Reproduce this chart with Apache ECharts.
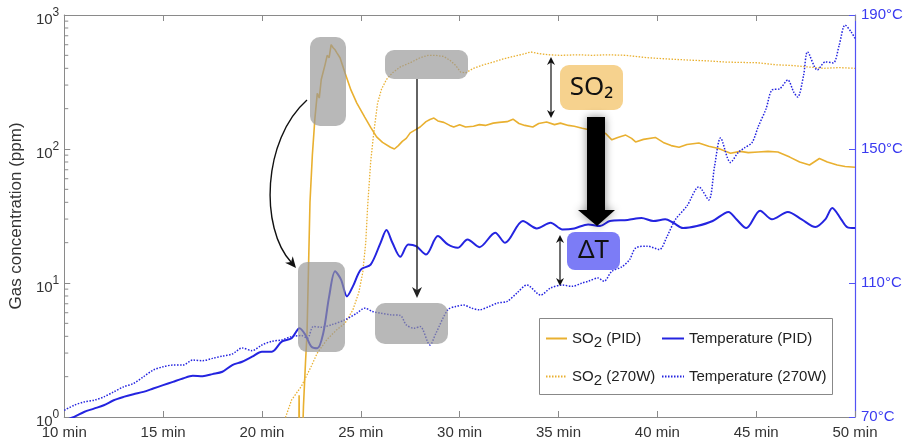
<!DOCTYPE html>
<html><head><meta charset="utf-8">
<script src="https://cdn.jsdelivr.net/npm/echarts@6/dist/echarts.min.js"></script>
<style>html,body{margin:0;padding:0;background:#fff}#c{width:908px;height:441px}</style>
</head><body><div id="c"></div>
<script>
// ---- data (time in min, SO2 in ppm, temperature in °C) ----
const xTicks = [10, 15, 20, 25, 30, 35, 40, 45, 50];
const leftTickLabels = ['10^0', '10^1', '10^2', '10^3'];
const rightTickLabels = ['70°C', '110°C', '150°C', '190°C'];
const seriesNames = ['SO2 (PID)', 'SO2 (270W)', 'Temperature (PID)', 'Temperature (270W)'];

const so2PID = [
 [21.5,0.3],[21.85,0.3],[21.88,1.45],[21.92,0.3],[22.0,0.4],[22.1,1.2],[22.2,2.5],[22.28,4.2],[22.35,12],[22.43,40],
 [22.55,90],[22.68,170],[22.8,260],[22.9,240],[23.0,330],[23.1,320],[23.2,430],[23.3,500],[23.4,480],[23.5,600],
 [23.6,570],[23.7,550],[23.8,520],[23.95,480],[24.2,370],[24.5,276],[24.8,220],[25.2,173],[25.5,145],[25.8,123],
 [26.1,112],[26.5,103],[26.7,100],[26.9,106],[27.1,114],[27.3,120],[27.5,132],[27.8,140],[28.0,146],[28.3,160],
 [28.5,166],[28.7,170],[28.9,162],[29.2,158],[29.5,150],[29.7,146],[30.0,152],[30.3,146],[30.7,148],[31.0,152],
 [31.3,150],[31.7,156],[32.0,158],[32.4,160],[32.7,167],[33.0,155],[33.3,150],[33.7,146],[34.0,155],[34.4,159],
 [34.8,152],[35.1,156],[35.5,150],[35.8,148],[36.2,143],[36.5,140],[37.0,139],[37.4,130],[37.7,117],[38.0,122],
 [38.4,127],[38.7,120],[38.9,113],[39.3,118],[39.9,122],[40.3,112],[40.7,106],[41.1,103],[41.5,108],[42.1,111],
 [42.6,105],[43.1,101],[43.7,93],[44.2,96],[44.6,94],[45.1,95],[45.6,96],[46.1,95],[46.4,91],[46.7,87],
 [47.2,80],[47.7,76],[48.2,85],[48.6,80],[49.1,76],[49.5,74],[50.0,73]
];
const so2W = [
 [20.5,0.5],[21.2,1.0],[21.5,1.34],[22.0,1.7],[22.5,2.4],[22.8,3.0],[23.3,3.8],[23.8,4.5],[24.2,5.0],[24.6,6.3],
 [24.9,8.5],[25.1,12],[25.25,20],[25.35,38],[25.5,80],[25.65,130],[25.85,220],[26.05,280],[26.3,330],[26.6,370],
 [27.0,410],[27.5,440],[28.0,480],[28.4,500],[28.8,500],[29.2,490],[29.5,460],[29.8,420],[30.05,375],[30.3,370],
 [30.7,400],[31.2,425],[31.7,445],[32.2,470],[32.7,490],[33.2,510],[33.6,530],[34.0,515],[34.5,505],[35.1,500],
 [36.0,505],[36.7,500],[37.5,505],[38.4,500],[39.5,480],[40.5,470],[41.7,460],[42.5,455],[43.5,445],[45.1,440],
 [46.0,425],[46.8,420],[47.6,410],[48.4,400],[49.2,405],[50.0,400]
];
const tempPID = [
 [10.0,69.0],[10.5,70.0],[11.0,71.5],[11.5,72.5],[12.0,73.5],[12.5,75.0],[13.0,76.0],[13.5,76.8],[14.0,77.5],[14.5,78.5],
 [15.0,79.5],[15.5,80.5],[16.0,81.5],[16.5,82.3],[17.0,82.2],[17.5,82.8],[18.0,83.5],[18.5,85.5],[19.0,86.5],[19.5,88.0],
 [20.0,89.5],[20.5,89.5],[21.0,92.5],[21.5,93.5],[21.9,96.5],[22.2,94.5],[22.5,91.0],[22.8,90.5],[23.1,95],[23.4,106],
 [23.7,113.5],[24.0,111],[24.3,106],[24.6,109],[25.0,114],[25.5,115.5],[26.0,122],[26.3,125.8],[26.6,122],[27.0,117.8],
 [27.4,121.5],[27.8,121],[28.3,118.5],[28.9,124],[29.4,121.5],[29.9,120.5],[30.4,123],[31.0,120.7],[31.8,125],[32.3,122],
 [33.2,128.5],[33.9,126.3],[34.6,128],[35.2,126],[35.8,126.3],[36.5,127.5],[37.1,127],[37.6,128.5],[38.5,128.8],[39.2,129.4],
 [39.8,128.5],[40.4,129],[40.8,128],[41.3,126.4],[42.0,127],[42.8,128.5],[43.6,131.2],[44.0,129],[44.5,126.4],[45.2,131.6],
 [45.8,129],[46.6,131.2],[47.3,129],[48.0,126.7],[48.5,129],[48.85,132.4],[49.3,129],[49.6,126.7],[50.0,126.4]
];
const tempW = [
 [10.0,72],[10.5,73.5],[11.0,74.5],[11.5,75],[12.0,76],[12.5,77.5],[13.0,79],[13.5,80],[14.0,82],[14.5,84],
 [15.0,85],[15.5,85.5],[16.0,85.5],[16.5,87],[17.0,86.8],[17.5,87.5],[18.0,88.2],[18.5,88.8],[19.0,90.6],[19.5,89.8],
 [20.0,91.5],[20.5,92.6],[21.0,93],[21.5,94],[22.0,94.3],[22.3,93.5],[22.6,97],[23.0,96.8],[23.5,97.5],[24.2,99],
 [24.8,101],[25.2,102.5],[25.6,101.5],[26.0,101],[26.5,100.5],[27.0,100.3],[27.3,97.5],[27.7,96.5],[28.0,97],[28.5,91.5],
 [28.8,95],[29.4,102],[29.8,103],[30.2,103.4],[30.6,102.5],[31.0,102],[31.5,103],[31.9,104],[32.4,104.5],[32.9,107],
 [33.4,109.4],[34.1,106.4],[34.6,108.5],[35.2,109.4],[35.7,109],[36.2,110],[36.5,110.5],[37.0,111.5],[37.3,110.5],[37.7,113.5],
 [38.2,114.8],[38.6,117],[38.9,120.4],[39.5,121],[40.1,120],[40.5,124],[40.9,128.8],[41.5,133],[42.1,138.7],[42.6,134.8],
 [42.9,145],[43.2,153.3],[43.7,146],[44.1,149],[44.4,150.3],[44.8,152],[45.1,156.6],[45.5,162],[45.8,167.6],[46.2,168],
 [46.6,170.6],[46.9,167],[47.1,165.5],[47.4,172],[47.6,179],[48.1,173.6],[48.5,176],[48.9,175.7],[49.2,181],[49.5,187],
 [49.8,185],[50.0,183]
];
const minorTickValues = [2,3,4,5,6,7,8,9,20,30,40,50,60,70,80,90,200,300,400,500,600,700,800,900];

// ---- styles ----
const FONT = '"Liberation Sans", Arial, sans-serif';
const ORANGE = '#E9B030';
const BLUE = '#2424E0';
const AXBLUE = '#5252F5';
const GREY = '#8a8a8a';
const LBL = '#333';

function arrowHead(tx, ty, dx, dy, len, hw, color) {
  const n = Math.hypot(dx, dy); dx /= n; dy /= n;
  const bx = tx - dx * len, by = ty - dy * len;
  const px = -dy * hw, py = dx * hw;
  const nx = tx - dx * len * 0.7, ny = ty - dy * len * 0.7;
  return { type: 'polygon', z: 110, shape: { points: [[tx, ty], [bx + px, by + py], [nx, ny], [bx - px, by - py]] }, style: { fill: color } };
}
function dblArrow(x, y1, y2) {
  return [
    { type: 'line', z: 110, shape: { x1: x, y1: y1 + 4, x2: x, y2: y2 - 4 }, style: { stroke: '#111', lineWidth: 1.2 } },
    arrowHead(x, y1, 0, -1, 8, 4, '#111'),
    arrowHead(x, y2, 0, 1, 8, 4, '#111')
  ];
}
const legendRich = {
  n: { fontSize: 15, fontFamily: FONT, color: '#222', lineHeight: 24, verticalAlign: 'middle' },
  s: { fontSize: 15, fontFamily: FONT, color: '#222', lineHeight: 12, verticalAlign: 'bottom' }
};
function legendFmt(name) {
  if (name.indexOf('SO2') === 0) return '{n|SO}{s|2}{n|' + name.slice(3) + '}';
  return '{n|' + name + '}';
}
function oneLegend(name, left, top, w) {
  return { orient: 'vertical', left: left, top: top, itemWidth: w, itemHeight: 12,
    data: [name], formatter: legendFmt, itemStyle: { opacity: 0 },
    textStyle: { rich: legendRich }, selectedMode: false };
}

const chart = echarts.init(document.getElementById('c'), null, { renderer: 'canvas' });
const option = {
  animation: false,
  backgroundColor: '#fff',
  grid: { left: 57, right: 53, top: 15, bottom: 24, containLabel: false },
  xAxis: [{
    type: 'value', min: xTicks[0], max: xTicks[xTicks.length - 1], interval: 5,
    axisLine: { lineStyle: { color: GREY, width: 1 } },
    axisTick: { inside: true, length: 6, lineStyle: { color: GREY } },
    axisLabel: { formatter: v => v + ' min', color: LBL, fontSize: 15, fontFamily: FONT, margin: 8 },
    splitLine: { show: false }
  }, {
    type: 'value', position: 'top', min: xTicks[0], max: xTicks[xTicks.length - 1], interval: 5,
    axisLine: { show: true, lineStyle: { color: GREY, width: 1 } },
    axisTick: { inside: true, length: 6, lineStyle: { color: GREY } },
    axisLabel: { show: false }, splitLine: { show: false }
  }],
  yAxis: [{
    type: 'log', logBase: 10, min: 1, max: 1000,
    name: 'Gas concentration (ppm)', nameLocation: 'middle', nameGap: 35,
    nameTextStyle: { color: LBL, fontSize: 17, fontFamily: FONT },
    axisLine: { show: true, lineStyle: { color: GREY, width: 1 } },
    axisTick: { show: true, inside: true, length: 6, lineStyle: { color: GREY } },
    axisLabel: {
      color: LBL, margin: 5,
      formatter: v => { const e = Math.round(Math.log10(v)); const t = leftTickLabels[e].split('^'); return '{b|' + t[0] + '}{s|' + t[1] + '}'; },
      rich: {
        b: { fontSize: 15, fontFamily: FONT, color: LBL, lineHeight: 15, padding: [10, 0, 0, 0], verticalAlign: 'middle' },
        s: { fontSize: 12, fontFamily: FONT, color: LBL, lineHeight: 12, padding: [0, 0, 4, 0], verticalAlign: 'middle' }
      }
    },
    splitLine: { show: false }
  }, {
    type: 'value', min: 70, max: 190, interval: 40, position: 'right',
    axisLine: { show: true, lineStyle: { color: AXBLUE, width: 1.2 } },
    axisTick: { show: true, inside: true, length: 6, lineStyle: { color: AXBLUE } },
    axisLabel: { color: '#3a3af0', fontSize: 15, fontFamily: FONT, margin: 6, formatter: v => rightTickLabels[(v - 70) / 40] },
    splitLine: { show: false }
  }],
  legend: [
    oneLegend(seriesNames[0], 540, 326, 21),
    oneLegend(seriesNames[1], 540, 364, 21),
    oneLegend(seriesNames[2], 656, 326, 22),
    oneLegend(seriesNames[3], 656, 364, 22)
  ],
  series: [
    { name: seriesNames[0], type: 'line', xAxisIndex: 0, yAxisIndex: 0, data: so2PID, showSymbol: false, symbol: 'none', clip: true,
      lineStyle: { color: ORANGE, width: 1.6 }, itemStyle: { color: ORANGE }, z: 3 },
    { name: seriesNames[1], type: 'line', xAxisIndex: 0, yAxisIndex: 0, data: so2W, showSymbol: false, symbol: 'none', clip: true,
      lineStyle: { color: ORANGE, width: 1.3, type: [1.5, 1.5] }, itemStyle: { color: ORANGE }, z: 3 },
    { name: seriesNames[2], type: 'line', xAxisIndex: 0, yAxisIndex: 1, data: tempPID, smooth: 0.3, showSymbol: false, symbol: 'none', clip: true,
      lineStyle: { color: BLUE, width: 2 }, itemStyle: { color: BLUE }, z: 4 },
    { name: seriesNames[3], type: 'line', xAxisIndex: 0, yAxisIndex: 1, data: tempW, smooth: 0.3, showSymbol: false, symbol: 'none', clip: true,
      lineStyle: { color: BLUE, width: 1.5, type: [1.5, 1.5] }, itemStyle: { color: BLUE }, z: 4 },
    { type: 'custom', xAxisIndex: 0, yAxisIndex: 0, silent: true, clip: false,
      data: minorTickValues.map(v => [xTicks[0], v]),
      renderItem: (params, api) => {
        const p = api.coord([api.value(0), api.value(1)]);
        return { type: 'line', shape: { x1: p[0], y1: p[1], x2: p[0] + 4, y2: p[1] }, style: { stroke: GREY, lineWidth: 1 } };
      } }
  ],
  graphic: [
    // legend frame
    { type: 'rect', z: -1, shape: { x: 539.5, y: 318.5, width: 293, height: 76 }, style: { fill: '#fff', stroke: '#888', lineWidth: 1 } },
    // grey highlight boxes
    { type: 'rect', z: 100, shape: { x: 310, y: 37, width: 36, height: 89, r: 10 }, style: { fill: 'rgba(150,150,150,0.68)' } },
    { type: 'rect', z: 100, shape: { x: 385, y: 50, width: 83, height: 29, r: 9 }, style: { fill: 'rgba(150,150,150,0.68)' } },
    { type: 'rect', z: 100, shape: { x: 298, y: 262, width: 47, height: 90, r: 9 }, style: { fill: 'rgba(150,150,150,0.68)' } },
    { type: 'rect', z: 100, shape: { x: 375, y: 303, width: 73, height: 41, r: 10 }, style: { fill: 'rgba(150,150,150,0.68)' } },
    // curved arrow
    { type: 'bezierCurve', z: 110, shape: { x1: 307, y1: 100, cpx1: 262, cpy1: 140, cpx2: 260, cpy2: 228, x2: 291, y2: 262 }, style: { stroke: '#111', lineWidth: 1.4, fill: null } },
    arrowHead(296, 268, 32, 38, 11, 5, '#111'),
    // straight arrow
    { type: 'line', z: 110, shape: { x1: 417, y1: 79, x2: 417, y2: 292 }, style: { stroke: '#222', lineWidth: 1.4 } },
    arrowHead(417, 298, 0, 1, 11, 5, '#222'),
    // double arrows
    ...dblArrow(551, 57, 118),
    ...dblArrow(560, 235, 286),
    // big arrow
    { type: 'polygon', z: 120, shape: { points: [[587, 117], [605, 117], [605, 210], [615, 210], [597, 226], [578, 210], [587, 210]] },
      style: { fill: '#000', shadowBlur: 8, shadowColor: 'rgba(0,0,0,0.45)' } },
    // SO2 box
    { type: 'rect', z: 115, shape: { x: 560, y: 65, width: 63, height: 45, r: 9 }, style: { fill: '#F6D28E' } },
    { type: 'text', z: 116, style: { text: 'SO₂', x: 591.5, y: 88, align: 'center', verticalAlign: 'middle', fontSize: 26, fontFamily: '"Noto Sans", "DejaVu Sans", sans-serif', fill: '#111' } },
    // Delta T box
    { type: 'rect', z: 115, shape: { x: 567, y: 232, width: 53, height: 38, r: 8 }, style: { fill: '#7C7CF6' } },
    { type: 'text', z: 116, style: { text: 'ΔT', x: 593.5, y: 251, align: 'center', verticalAlign: 'middle', fontSize: 26, fontFamily: '"Noto Sans", "DejaVu Sans", sans-serif', fill: '#111' } }
  ]
};
chart.setOption(option);
</script></body></html>
